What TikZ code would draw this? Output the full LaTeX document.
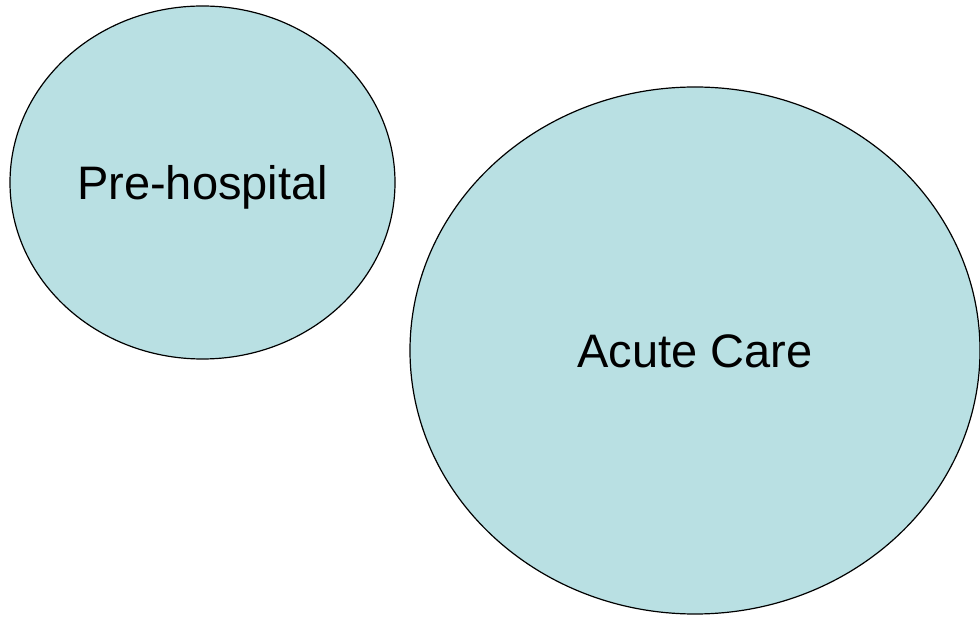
\documentclass[tikz,border=0pt]{standalone}
\usepackage{fontspec}
\setmainfont{Liberation Sans}
\usetikzlibrary{shapes.geometric}
\definecolor{careblue}{RGB}{185,224,227}

\begin{document}
\begin{tikzpicture}[x=1pt,y=1pt,
  bubble/.style={ellipse, draw=black, line width=1.2pt, fill=careblue, inner sep=0pt,
    text height=34pt, text depth=0pt, font=\fontsize{47}{56}\selectfont}]
\useasboundingbox (0,0) rectangle (980,616);
\node[bubble, minimum width=385pt, minimum height=353pt] (pre) at (202.5,433.5) {Pre-hospital};
\node[bubble, minimum width=570pt, minimum height=527pt] (acute) at (695,265.5) {Acute Care};
\end{tikzpicture}
\end{document}
